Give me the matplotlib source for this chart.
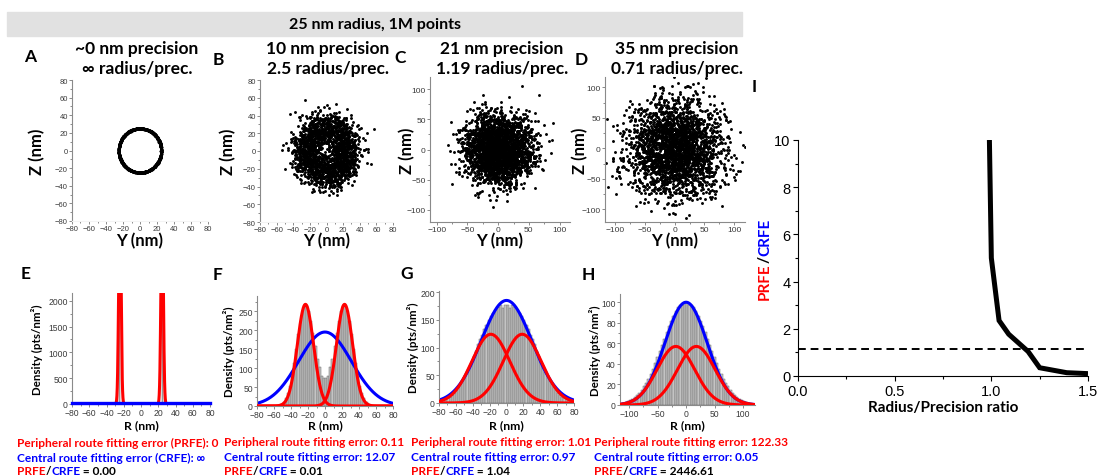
import numpy as np
import matplotlib
matplotlib.use("Agg")
import matplotlib.pyplot as plt
from matplotlib.patches import Rectangle
from matplotlib.ticker import MultipleLocator

plt.rcParams['font.family'] = ['Liberation Sans', 'DejaVu Sans']
LABEL_FONT = ['Lato', 'DejaVu Sans']

# simulated ring: 25 nm radius, 1M localisations per precision
ring_radius = 25.0
n_points = 1_000_000
precisions = [0.3, 10, 21, 35]
scatter_counts = [3000, 1800, 2600, 2500]
seeds = [11, 12, 13, 14]

title_lines = [("~0 nm precision", "\u221e radius/prec."),
               ("10 nm precision", "2.5 radius/prec."),
               ("21 nm precision", "1.19 radius/prec."),
               ("35 nm precision", "0.71 radius/prec.")]
top_letters = ["A", "B", "C", "D"]
bottom_letters = ["E", "F", "G", "H"]

# radial density histogram bin widths (nm)
hist_bin = [2.0, 2.5, 2.5, 4.0]

# fitted gaussians: (amplitude, centre, sigma)
peripheral_fits = [
    [(4000, -24.5, 1.35), (4000, 24.5, 1.35)],
    [(268, -23.0, 9.5), (268, 23.0, 9.5)],
    [(124, -18.6, 22.5), (124, 18.6, 22.5)],
    [(57, -18.0, 33.0), (57, 18.0, 33.0)],
]
central_fits = [(20, 0.0, 1e4), (195, 0.0, 31.0), (185, 0.0, 30.0), (100, 0.0, 37.0)]

prfe_values = ["0", "0.11", "1.01", "122.33"]
crfe_values = ["\u221e", "12.07", "0.97", "0.05"]
ratio_values = ["0.00", "0.01", "1.04", "2446.61"]

# panel I: error ratio vs radius/precision
ratio_x = [0.99, 1.0, 1.04, 1.09, 1.19, 1.25, 1.39, 1.5]
ratio_y = [10.0, 5.0, 2.35, 1.77, 1.04, 0.35, 0.14, 0.1]
threshold = 1.13

W, H = 1101, 477
fig = plt.figure(figsize=(W / 100, H / 100), dpi=100)


def px_axes(left, top, right, bottom):
    return fig.add_axes([left / W, 1 - bottom / H, (right - left) / W, (bottom - top) / H])


def style_small(ax, major, minor, labelsize, bottom_line=True):
    for s in ['top', 'right']:
        ax.spines[s].set_visible(False)
    ax.spines['left'].set_color('#8a8a8a')
    ax.spines['left'].set_linewidth(0.8)
    ax.spines['bottom'].set_color('#8a8a8a' if bottom_line else '#f4f4f4')
    ax.spines['bottom'].set_linewidth(0.8)
    ax.xaxis.set_major_locator(MultipleLocator(major[0]))
    ax.yaxis.set_major_locator(MultipleLocator(major[1]))
    ax.xaxis.set_minor_locator(MultipleLocator(minor[0]))
    ax.yaxis.set_minor_locator(MultipleLocator(minor[1]))
    ax.tick_params(which='both', direction='out', width=0.6, color='#777777',
                   labelsize=labelsize, labelcolor='#3a3a3a', pad=0.8)
    ax.tick_params(which='major', length=2.2)
    ax.tick_params(which='minor', length=1.2)


def gauss(x, amp, mu, sig):
    return amp * np.exp(-(x - mu) ** 2 / (2 * sig ** 2))


# localisations
samples = []
for sig, seed in zip(precisions, seeds):
    rng = np.random.default_rng(seed)
    theta = rng.uniform(0, 2 * np.pi, n_points)
    y = ring_radius * np.cos(theta) + rng.normal(0, sig, n_points)
    z = ring_radius * np.sin(theta) + rng.normal(0, sig, n_points)
    samples.append((y, z))

# background band with the header
fig.patches.append(Rectangle((7 / W, 1 - 37 / H), 735 / W, 24 / H,
                             transform=fig.transFigure, color='#e1e1e1', zorder=0))

top_boxes = [(72, 81, 208, 222), (260, 81, 393, 223), (430, 78, 570, 223), (605, 78, 745, 223)]
top_lims = [((-80, 80), (-80, 80)), ((-80, 80), (-80, 80)),
            ((-111, 117), (-120, 120)), ((-117, 118), (-121, 117))]
top_ticks = [((20, 20), (10, 10)), ((20, 20), (10, 10)),
             ((50, 50), (25, 25)), ((50, 50), (25, 25))]

for i in range(4):
    ax = px_axes(*top_boxes[i])
    y, z = samples[i]
    n = scatter_counts[i]
    ax.scatter(y[:n], z[:n], s=2.6 if i == 0 else 4.4, c='black', linewidths=0, clip_on=True)
    ax.set_xlim(top_lims[i][0])
    ax.set_ylim(top_lims[i][1])
    style_small(ax, top_ticks[i][0], top_ticks[i][1], 5.5 if i < 2 else 6, bottom_line=i >= 2)

bottom_boxes = [(72, 294, 210, 405), (257, 297, 393, 407), (439, 292, 574, 404), (620, 295, 755, 406)]
bottom_lims = [((-80, 80), (0, 2150)), ((-80, 80), (0, 290)),
               ((-80, 80), (0, 202)), ((-116, 121), (0, 108))]
bottom_ticks = [((20, 500), (10, 250)), ((20, 50), (10, 25)),
                ((20, 50), (10, 25)), ((50, 20), (25, 10))]

for i in range(4):
    ax = px_axes(*bottom_boxes[i])
    y, z = samples[i]
    r = np.hypot(y, z)
    w = hist_bin[i]
    edges = np.arange(0, 130 + w, w)
    counts, _ = np.histogram(r, bins=edges)
    dens = counts / (np.pi * (edges[1:] ** 2 - edges[:-1] ** 2))
    mids = 0.5 * (edges[1:] + edges[:-1])
    xs = np.concatenate([-mids[::-1], mids])
    hs = np.concatenate([dens[::-1], dens])
    ax.bar(xs, hs, width=w, color='#c4c4c4', edgecolor='#6a6a6a', linewidth=0.35, zorder=1)

    xlim = bottom_lims[i][0]
    grid = np.linspace(xlim[0], xlim[1], 800)
    central = gauss(grid, *central_fits[i])
    if i == 0:
        for p in peripheral_fits[i]:
            ax.plot(grid, gauss(grid, *p), color='red', lw=2.2, zorder=2)
        ax.plot(grid, central, color='blue', lw=2.4, zorder=3, clip_on=False)
    else:
        ax.plot(grid, central, color='blue', lw=2.2, zorder=2)
        for p in peripheral_fits[i]:
            ax.plot(grid, gauss(grid, *p), color='red', lw=2.2, zorder=3)
    ax.set_xlim(xlim)
    ax.set_ylim(bottom_lims[i][1])
    style_small(ax, bottom_ticks[i][0], bottom_ticks[i][1], 6.2)

# panel I
axI = px_axes(798, 141, 1088, 377)
axI.plot(ratio_x, ratio_y, color='black', lw=3.6, solid_joinstyle='miter', solid_capstyle='butt')
axI.axhline(threshold, color='black', lw=1.4, ls=(0, (4, 2.5)))
axI.set_xlim(0, 1.5)
axI.set_ylim(0, 10)
for s in ['top', 'right']:
    axI.spines[s].set_visible(False)
axI.xaxis.set_major_locator(MultipleLocator(0.5))
axI.xaxis.set_minor_locator(MultipleLocator(0.25))
axI.yaxis.set_major_locator(MultipleLocator(2))
axI.yaxis.set_minor_locator(MultipleLocator(1))
axI.tick_params(which='both', direction='out', width=0.8, labelsize=10.5, pad=2)
axI.tick_params(which='major', length=3.5)
axI.tick_params(which='minor', length=2)

# overlay for all free text, in pixel coordinates from the top-left corner
over = fig.add_axes([0, 0, 1, 1], zorder=10)
over.set_xlim(0, W)
over.set_ylim(H, 0)
over.axis('off')


def label(x, y, s, size, **kw):
    kw.setdefault('ha', 'center')
    kw.setdefault('va', 'center')
    return over.text(x, y, s, fontsize=size, fontweight='bold', family=LABEL_FONT, **kw)


def colored(x, y, pieces, size, rotation=0, ha='left'):
    t = over.text(x, y, pieces[0][0], color=pieces[0][1], fontsize=size, fontweight='bold',
                  family=LABEL_FONT, rotation=rotation, ha=ha,
                  va='bottom' if rotation else 'center')
    for s, c in pieces[1:]:
        if rotation:
            t = over.annotate(s, xy=(0, 1), xycoords=t, ha='left', va='bottom', rotation=rotation,
                              color=c, fontsize=size, fontweight='bold', family=LABEL_FONT)
        else:
            t = over.annotate(s, xy=(1, 0), xycoords=t, ha='left', va='bottom',
                              color=c, fontsize=size, fontweight='bold', family=LABEL_FONT)
    return t


label(375, 25, "25 nm radius, 1M points", 11.5)

title_x = [137, 328, 502, 677]
letter_pos = [(30, 57), (218, 60), (400, 58), (581, 60)]
zlabel_x = [37, 228, 407, 580]
for i in range(4):
    label(title_x[i], 49, title_lines[i][0], 12.5)
    label(title_x[i], 69, title_lines[i][1], 12.5)
    label(*letter_pos[i], top_letters[i], 12.5)
    l, t, r, b = top_boxes[i]
    label(zlabel_x[i], (t + b) / 2, "Z (nm)", 12, rotation=90)
    label((l + r) / 2, 241, "Y (nm)", 12)

label(754, 87, "I", 12.5)

bletter_pos = [(26, 274), (218, 275), (407, 274), (588, 275)]
dens_x = [37, 229, 413, 595]
text_x = [17, 224, 411, 594]
for i in range(4):
    l, t, r, b = bottom_boxes[i]
    label(*bletter_pos[i], bottom_letters[i], 12.5)
    label(dens_x[i], (t + b) / 2, "Density (pts/nm\u00b2)", 8.3, rotation=90)
    label((l + r) / 2, 426, "R (nm)", 8.8)
    if i == 0:
        first = "Peripheral route fitting error (PRFE): " + prfe_values[i]
        second = "Central route fitting error (CRFE): " + crfe_values[i]
    else:
        first = "Peripheral route fitting error: " + prfe_values[i]
        second = "Central route fitting error: " + crfe_values[i]
    label(text_x[i], 443, first, 8.6, ha='left', color='red')
    label(text_x[i], 458, second, 8.6, ha='left', color='blue')
    colored(text_x[i], 472, [("PRFE", 'red'), ("/", 'black'), ("CRFE", 'blue'),
                             (" = " + ratio_values[i], 'black')], 8.6)

colored(765, 300, [("PRFE", 'red'), ("/", 'black'), ("CRFE", 'blue')], 11, rotation=90, ha='center')
label(943, 408, "Radius/Precision ratio", 11)

fig.savefig("out.png", dpi=100)
